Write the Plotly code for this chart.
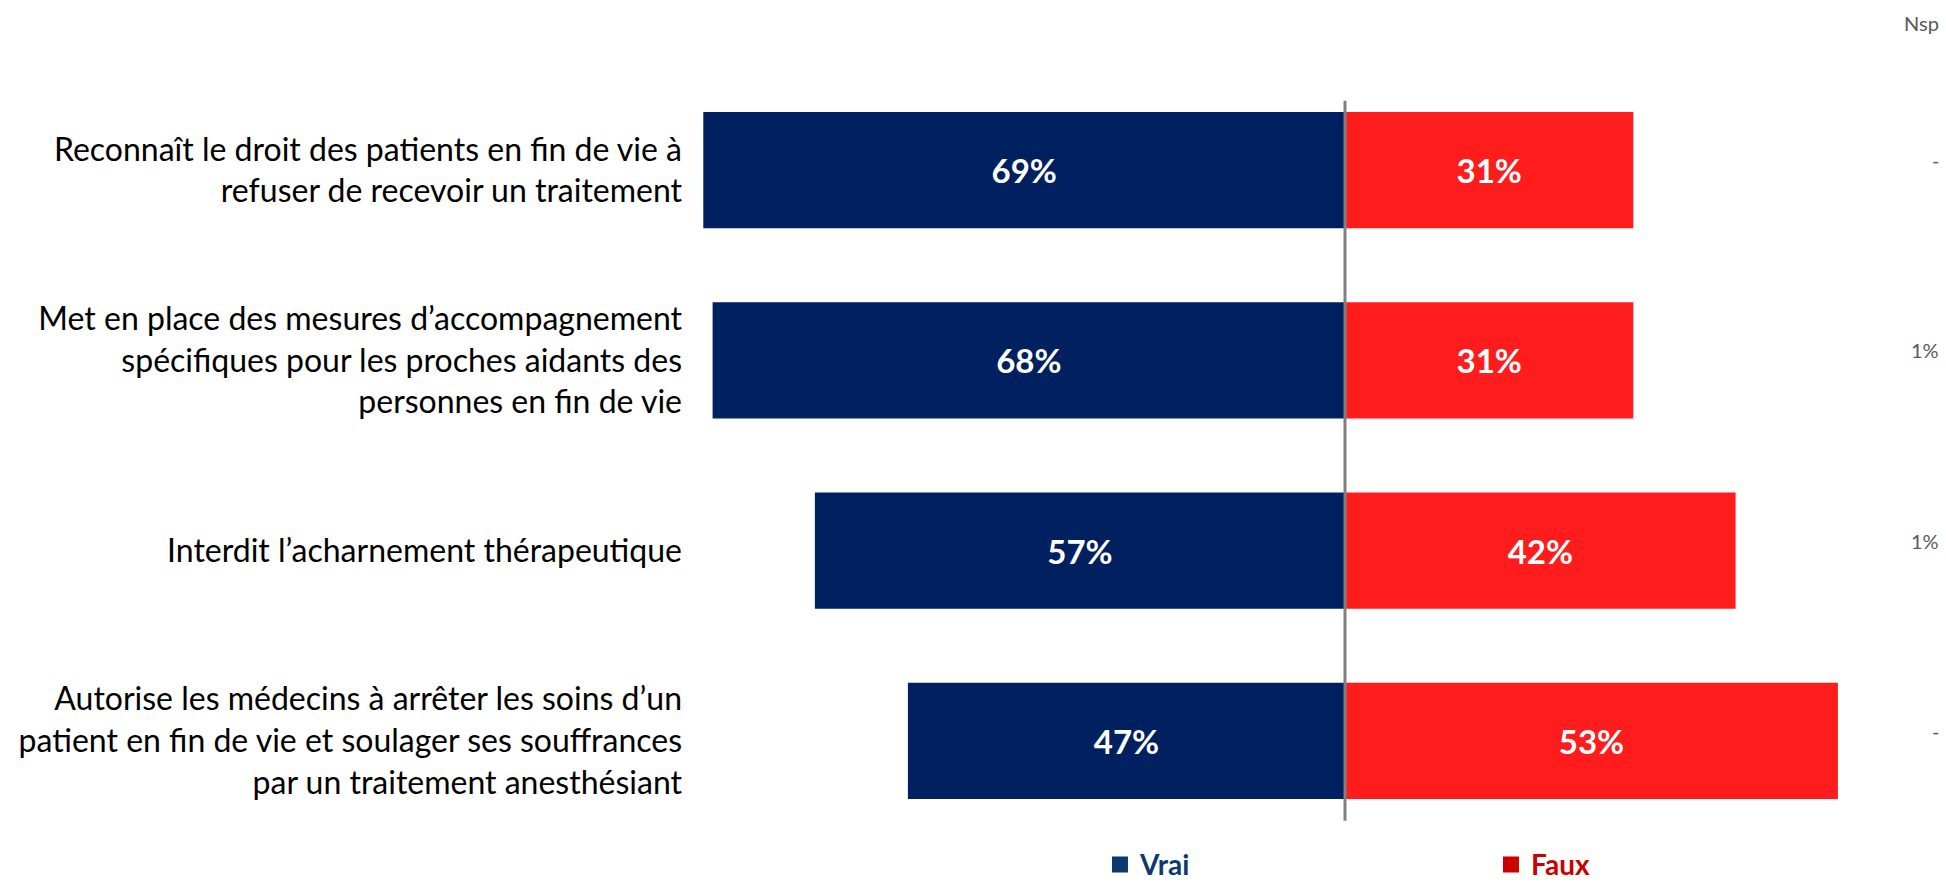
import plotly.graph_objects as go

categories = [
    "Reconnaît le droit des patients en fin de vie à<br>refuser de recevoir un traitement",
    "Met en place des mesures d’accompagnement<br>spécifiques pour les proches aidants des<br>personnes en fin de vie",
    "Interdit l’acharnement thérapeutique",
    "Autorise les médecins à arrêter les soins d’un<br>patient en fin de vie et soulager ses souffrances<br>par un traitement anesthésiant",
]
vrai = [69, 68, 57, 47]
faux = [31, 31, 42, 53]
nsp = ["-", "1%", "1%", "-"]

NAVY = "#002060"
RED = "#ff1c1c"
FONT = "Lato"

# pixel layout: zero line at x=1345, ~9.3 px per percent
px_per = 9.3
left_px, width_px = 700, 1946
xmin = (left_px - 1345) / px_per
xmax = xmin + (width_px - left_px) / px_per

fig = go.Figure()
fig.add_trace(go.Bar(
    y=categories, x=[-v for v in vrai], orientation="h",
    marker=dict(color=NAVY, line=dict(width=0)),
    text=[f"{v}%" for v in vrai], textposition="inside", insidetextanchor="middle",
    textfont=dict(family=FONT, size=33, color="white", weight="bold"),
    constraintext="none", showlegend=False, hoverinfo="skip", width=0.61,
))
fig.add_trace(go.Bar(
    y=categories, x=faux, orientation="h",
    marker=dict(color=RED, line=dict(width=0)),
    text=[f"{v}%" for v in faux], textposition="inside", insidetextanchor="middle",
    textfont=dict(family=FONT, size=33, color="white", weight="bold"),
    constraintext="none", showlegend=False, hoverinfo="skip", width=0.61,
))

# legend entries
fig.add_trace(go.Scatter(x=[None], y=[None], mode="markers", name="<span style='color:#0b3a6e'><b>Vrai</b></span>",
                         marker=dict(symbol="square", size=18, color="#0b3a6e")))
fig.add_trace(go.Scatter(x=[None], y=[None], mode="markers", name="<span style='color:#cc0000'><b>Faux</b></span>",
                         marker=dict(symbol="square", size=18, color="#cc0000")))

# centre line
fig.add_shape(type="line", xref="x", yref="paper", x0=0, x1=0, y0=0.02, y1=0.966,
              line=dict(color="#808080", width=3))

# Nsp column
fig.add_annotation(text="Nsp", xref="paper", yref="paper", x=0.996, y=1.068,
                   xanchor="right", yanchor="middle", showarrow=False,
                   font=dict(family=FONT, size=20, color="#595959"))
for cat, n in zip(categories, nsp):
    fig.add_annotation(text=n, xref="paper", yref="y", x=0.996, y=cat, yshift=10,
                       xanchor="right", yanchor="middle", showarrow=False,
                       font=dict(family=FONT, size=20, color="#595959"))

fig.update_layout(
    width=1946, height=887,
    margin=dict(l=left_px, r=0, t=75, b=51, autoexpand=False),
    barmode="relative", bargap=0.39,
    plot_bgcolor="white", paper_bgcolor="white",
    font=dict(family=FONT, size=32, color="black"),
    xaxis=dict(range=[xmin, xmax], visible=False, fixedrange=True),
    yaxis=dict(autorange="reversed", showgrid=False, zeroline=False, showline=False,
               ticks="", ticklabelstandoff=17, tickfont=dict(family=FONT, size=32, color="black")),
    legend=dict(orientation="h", x=0.321, y=0.025, xref="paper", yref="container",
                xanchor="left", yanchor="middle",
                font=dict(family=FONT, size=28), entrywidth=346, entrywidthmode="pixels",
                bgcolor="rgba(0,0,0,0)"),
)

fig.write_html("out.html", config={"displayModeBar": False},
               post_script="document.body.style.margin='0';")
